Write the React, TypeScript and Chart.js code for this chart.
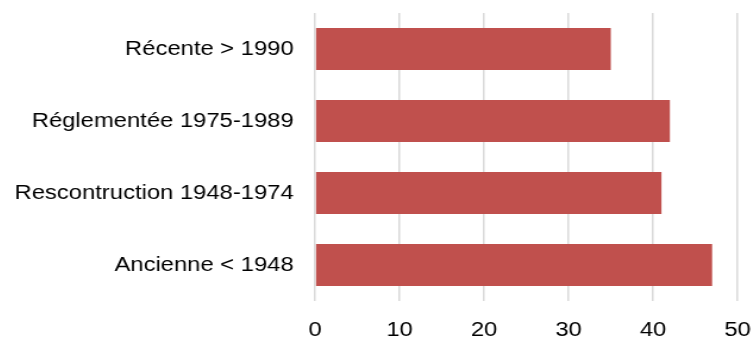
import React, { useEffect, useRef } from 'react';
import { Chart, registerables } from 'chart.js';

Chart.register(...registerables);

const categories = [
  'Récente > 1990',
  'Réglementée 1975-1989',
  'Rescontruction 1948-1974',
  'Ancienne < 1948',
];
const values = [35, 42, 41, 47];
const xMin = 0;
const xMax = 50;
const xStep = 10;

const BAR_COLOR = '#C0504D';
const GRID_COLOR = '#d9d9d9';
const FONT = { family: '"Liberation Sans", Arial, sans-serif', size: 20 };
const STRETCH = 1.19;
const CW = 624;
const CH = 334;
const X_GAP = 17;
const Y_GAP = 18;

export default function App() {
  const ref = useRef<HTMLCanvasElement | null>(null);

  useEffect(() => {
    if (!ref.current) return;
    const chart = new Chart(ref.current, {
      type: 'bar',
      data: {
        labels: categories,
        datasets: [
          {
            data: values,
            backgroundColor: BAR_COLOR,
            borderWidth: 0,
            categoryPercentage: 1,
            barPercentage: 0.583,
          },
        ],
      },
      options: {
        indexAxis: 'y',
        responsive: false,
        animation: false,
        devicePixelRatio: 1,
        layout: { padding: { top: 5, left: 5.5, right: 11, bottom: 0 } },
        plugins: { legend: { display: false }, tooltip: { enabled: false } },
        scales: {
          x: {
            min: xMin,
            max: xMax,
            ticks: { stepSize: xStep, color: '#000', font: FONT, padding: 0 },
            grid: {
              color: GRID_COLOR,
              lineWidth: 1.5,
              drawTicks: true,
              tickLength: X_GAP,
              tickColor: 'rgba(0,0,0,0)',
            },
            border: { display: false },
            afterFit: (s: any) => {
              s.paddingLeft = 0;
              s.paddingRight = 0;
            },
          },
          y: {
            ticks: { color: '#000', font: FONT, padding: 0 },
            grid: {
              display: true,
              drawOnChartArea: false,
              drawTicks: true,
              tickLength: Y_GAP,
              color: 'rgba(0,0,0,0)',
              tickColor: 'rgba(0,0,0,0)',
            },
            border: { display: false },
            afterFit: (s: any) => {
              s.paddingTop = 0;
              s.paddingBottom = 0;
            },
          },
        },
      },
    });
    return () => chart.destroy();
  }, []);

  return (
    <div
      style={{
        position: 'fixed',
        left: 0,
        top: 0,
        width: 752,
        height: 338,
        overflow: 'hidden',
        background: '#fff',
      }}
    >
      <div
        style={{
          position: 'absolute',
          left: 8,
          top: 8,
          width: CW,
          height: CH,
          transform: `scaleX(${STRETCH})`,
          transformOrigin: '0 0',
        }}
      >
        <canvas ref={ref} width={CW} height={CH} style={{ width: CW, height: CH }} />
      </div>
    </div>
  );
}
